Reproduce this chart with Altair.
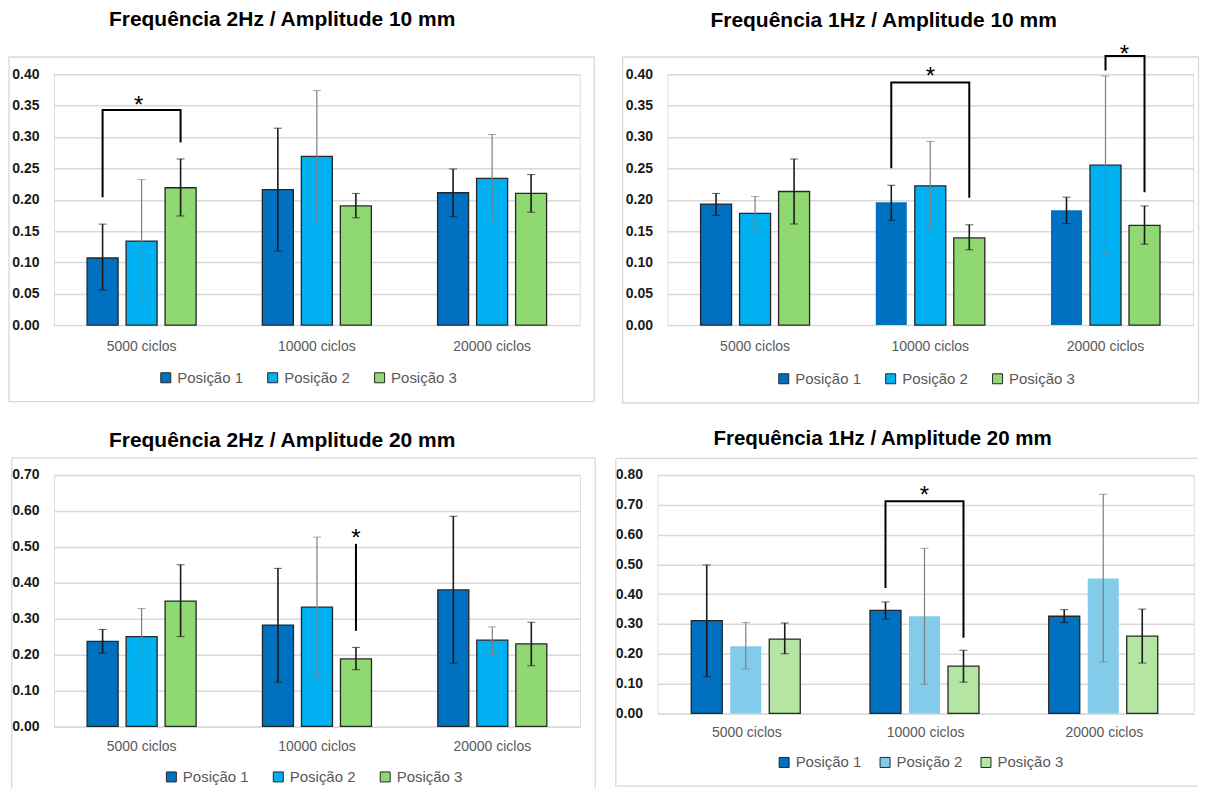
import altair as alt
import pandas as pd

FONT = "Liberation Sans"

cats = ["5000 ciclos", "10000 ciclos", "20000 ciclos"]
positions = ["Posição 1", "Posição 2", "Posição 3"]

colors_main = ["#0070C0", "#00B0F0", "#90D872"]
colors_light = ["#0070C0", "#83CBEB", "#B4E5A2"]

# ---- Panel A: 2Hz / 10 mm  (rows = Posição 1..3, cols = cats)
a_title = "Frequência 2Hz / Amplitude 10 mm"
a_mean = [[0.107, 0.216, 0.211], [0.134, 0.269, 0.234], [0.219, 0.190, 0.210]]
a_lo = [[0.056, 0.118, 0.173], [0.037, 0.165, 0.165], [0.174, 0.171, 0.180]]
a_hi = [[0.161, 0.314, 0.249], [0.232, 0.374, 0.304], [0.265, 0.210, 0.240]]
a_ticks = [0.00, 0.05, 0.10, 0.15, 0.20, 0.25, 0.30, 0.35, 0.40]
a_bracket = [["5000 ciclos", "Posição 1", 0.204], ["5000 ciclos", "Posição 1", 0.343],
             ["5000 ciclos", "Posição 3", 0.343], ["5000 ciclos", "Posição 3", 0.291]]
a_star = [["5000 ciclos", "Posição 2", 0.359]]

# ---- Panel B: 1Hz / 10 mm
b_title = "Frequência 1Hz / Amplitude 10 mm"
b_mean = [[0.193, 0.196, 0.183], [0.178, 0.222, 0.255], [0.213, 0.139, 0.159]]
b_lo = [[0.175, 0.167, 0.162], [0.150, 0.152, 0.113], [0.161, 0.120, 0.129]]
b_hi = [[0.210, 0.223, 0.204], [0.205, 0.293, 0.397], [0.265, 0.160, 0.190]]
b_ticks = a_ticks
b_bracket1 = [["10000 ciclos", "Posição 1", 0.250], ["10000 ciclos", "Posição 1", 0.387],
              ["10000 ciclos", "Posição 3", 0.387], ["10000 ciclos", "Posição 3", 0.203]]
b_bracket2 = [["20000 ciclos", "Posição 2", 0.406], ["20000 ciclos", "Posição 2", 0.429],
              ["20000 ciclos", "Posição 3", 0.429], ["20000 ciclos", "Posição 3", 0.212]]
b_star1 = [["10000 ciclos", "Posição 2", 0.405]]
b_star2 = [["20000 ciclos", "Posição 2", 0.441]]

# ---- Panel C: 2Hz / 20 mm
c_title = "Frequência 2Hz / Amplitude 20 mm"
c_mean = [[0.237, 0.282, 0.380], [0.250, 0.332, 0.240], [0.349, 0.188, 0.230]]
c_lo = [[0.204, 0.123, 0.176], [0.175, 0.139, 0.200], [0.250, 0.158, 0.169]]
c_hi = [[0.270, 0.440, 0.585], [0.328, 0.527, 0.277], [0.450, 0.220, 0.290]]
c_ticks = [0.0, 0.1, 0.2, 0.3, 0.4, 0.5, 0.6, 0.7]
c_bracket = [["10000 ciclos", "Posição 3", 0.266], ["10000 ciclos", "Posição 3", 0.508]]
c_star = [["10000 ciclos", "Posição 3", 0.538]]

# ---- Panel D: 1Hz / 20 mm
d_title = "Frequência 1Hz / Amplitude 20 mm"
d_mean = [[0.311, 0.346, 0.326], [0.225, 0.326, 0.453], [0.249, 0.159, 0.259]]
d_lo = [[0.123, 0.317, 0.305], [0.149, 0.098, 0.173], [0.200, 0.105, 0.169]]
d_hi = [[0.498, 0.374, 0.348], [0.305, 0.554, 0.735], [0.303, 0.212, 0.350]]
d_ticks = [0.0, 0.1, 0.2, 0.3, 0.4, 0.5, 0.6, 0.7, 0.8]
d_bracket = [["10000 ciclos", "Posição 1", 0.421], ["10000 ciclos", "Posição 1", 0.712],
             ["10000 ciclos", "Posição 3", 0.712], ["10000 ciclos", "Posição 3", 0.254]]
d_star = [["10000 ciclos", "Posição 2", 0.748]]


def bar_df(mean, lo, hi):
    rows = []
    for i, p in enumerate(positions):
        for j, c in enumerate(cats):
            rows.append({"cat": c, "pos": p, "mean": mean[i][j], "lo": lo[i][j], "hi": hi[i][j]})
    return pd.DataFrame(rows)


def path_df(points):
    return pd.DataFrame([{"cat": c, "pos": p, "v": v, "ord": k} for k, (c, p, v) in enumerate(points)])


def one_row():
    return pd.DataFrame({"k": [0]})


def panel(title, mean, lo, hi, ticks, ymax, colors, brackets, stars, w, h,
          tdx, tdy, toff, tsize, leg_x, leg_y, col_pad, nostroke, frame, xlabpad):
    xaxis = alt.Axis(title=None, labelAngle=0, domain=False, ticks=False, tickSize=0,
                     labelPadding=xlabpad, labelFontSize=14, labelColor="#595959", labelFont=FONT,
                     grid=False)
    yaxis = alt.Axis(title=None, values=ticks, format=".2f", domain=False, ticks=False,
                     tickSize=0, labelPadding=15, labelFontSize=14, labelFontWeight="bold",
                     labelColor="#1a1a1a", labelFont=FONT, gridColor="#D9D9D9", gridWidth=1.5)
    xs = alt.Scale(paddingInner=0.378, paddingOuter=0.189)
    xos = alt.Scale(paddingInner=0.205, paddingOuter=0)
    ys = alt.Scale(domain=[0, ymax], nice=False, zero=True)

    def X():
        return alt.X("cat:N", sort=cats, scale=xs, axis=xaxis)

    def XO():
        return alt.XOffset("pos:N", sort=positions, scale=xos)

    df = bar_df(mean, lo, hi)
    layers = []

    # frame (decoration)
    fl, ft, fr, fb, sides = frame
    if sides == "all":
        layers.append(alt.Chart(one_row()).mark_rect(fillOpacity=0, stroke="#D9D9D9", strokeWidth=1.3)
                      .encode(x=alt.value(fl), x2=alt.value(fr), y=alt.value(ft), y2=alt.value(fb)))
    else:
        for s in sides:
            if s == "l":
                enc = dict(x=alt.value(fl), y=alt.value(ft), y2=alt.value(fb))
            elif s == "r":
                enc = dict(x=alt.value(fr), y=alt.value(ft), y2=alt.value(fb))
            elif s == "t":
                enc = dict(x=alt.value(fl), x2=alt.value(fr), y=alt.value(ft))
            else:
                enc = dict(x=alt.value(fl), x2=alt.value(fr), y=alt.value(fb))
            layers.append(alt.Chart(one_row()).mark_rule(color="#D9D9D9", strokeWidth=1.3).encode(**enc))
        # invisible anchor so that all left panels line up at the same left edge
        layers.append(alt.Chart(one_row()).mark_rule(opacity=0).encode(
            x=alt.value(-45), y=alt.value(ft), y2=alt.value(ft + 5)))

    sw = alt.value(1.3) if nostroke is None else alt.condition(nostroke, alt.value(0), alt.value(1.3))
    bars = alt.Chart(df).mark_bar(stroke="#262626").encode(
        x=X(), xOffset=XO(),
        y=alt.Y("mean:Q", scale=ys, axis=yaxis),
        color=alt.Color("pos:N", sort=positions,
                        scale=alt.Scale(domain=positions, range=colors),
                        legend=alt.Legend(orient="none", legendX=leg_x, legendY=leg_y,
                                          direction="horizontal", title=None,
                                          symbolType="square", symbolSize=100,
                                          symbolStrokeColor="#262626", symbolStrokeWidth=1,
                                          symbolOpacity=1,
                                          labelFontSize=15, labelColor="#595959", labelFont=FONT,
                                          columnPadding=col_pad, labelOffset=4, padding=0)),
        strokeWidth=sw,
    )
    layers.append(bars)

    ecol = alt.condition("datum.pos === 'Posição 2'", alt.value("#7F7F7F"), alt.value("#1a1a1a"))
    ewid = alt.condition("datum.pos === 'Posição 2'", alt.value(1.2), alt.value(1.6))
    err = alt.Chart(df).mark_rule().encode(
        x=X(), xOffset=XO(),
        y=alt.Y("lo:Q", scale=ys, axis=yaxis), y2="hi:Q",
        color=ecol, strokeWidth=ewid)
    cap_lo = alt.Chart(df).mark_tick(size=8).encode(
        x=X(), xOffset=XO(), y=alt.Y("lo:Q", scale=ys, axis=yaxis), color=ecol, strokeWidth=ewid)
    cap_hi = alt.Chart(df).mark_tick(size=8).encode(
        x=X(), xOffset=XO(), y=alt.Y("hi:Q", scale=ys, axis=yaxis), color=ecol, strokeWidth=ewid)
    layers += [err, cap_lo, cap_hi]

    for pts in brackets:
        layers.append(alt.Chart(path_df(pts)).mark_line(color="black", strokeWidth=2,
                                                         strokeJoin="miter", strokeCap="butt").encode(
            x=X(), xOffset=XO(), y=alt.Y("v:Q", scale=ys, axis=yaxis), order="ord:Q"))
    for pts, sdx in stars:
        layers.append(alt.Chart(path_df(pts)).mark_text(text="*", fontSize=24, font=FONT,
                                                         baseline="alphabetic", dy=13, dx=sdx,
                                                         color="black").encode(
            x=X(), xOffset=XO(), y=alt.Y("v:Q", scale=ys, axis=yaxis)))

    return alt.layer(*layers).properties(
        width=w, height=h,
        title=alt.TitleParams(text=title, anchor="start", frame="group", dx=tdx, dy=tdy,
                              offset=toff, fontSize=tsize, font=FONT, fontWeight="bold",
                              color="black"),
    )


pa = panel(a_title, a_mean, a_lo, a_hi, a_ticks, 0.40, colors_main,
           [a_bracket], [(a_star, -3)], 526.2, 251, 55, 0, 26, 21, 104.4, 296, 22, None,
           (-45, -17.3, 540.7, 327.7, "all"), 14)
pb = panel(b_title, b_mean, b_lo, b_hi, b_ticks, 0.40, colors_main,
           [b_bracket1, b_bracket2], [(b_star1, 0), (b_star2, 19)], 526.1, 251, 43, 14, 26, 21,
           108.9, 297, 22, "datum.pos === 'Posição 1' && datum.cat !== '5000 ciclos'",
           (-44.9, -17.3, 531.5, 329, "all"), 14)
pc = panel(c_title, c_mean, c_lo, c_hi, c_ticks, 0.70, colors_main,
           [c_bracket], [(c_star, 0)], 526.5, 251.7, 55, 0, 6, 21, 110, 294.5, 22, None,
           (-42.3, -17, 541.7, 314, "ltr"), 13)
pd_ = panel(d_title, d_mean, d_lo, d_hi, d_ticks, 0.80, colors_light,
            [d_bracket], [(d_star, 0)], 536.7, 238.7, 56, 0, 8, 20.5, 119.3, 280, 16,
            "datum.pos === 'Posição 2'",
            (-41.7, -16.6, 541, 311.4, "ltb"), 12)

row1 = alt.hconcat(pa, pb, spacing=87, bounds="flush").resolve_scale(color="independent")
row2 = alt.hconcat(pc, pd_, spacing=77, bounds="flush").resolve_scale(color="independent")

chart = alt.vconcat(row1, row2, spacing=23).resolve_scale(
    color="independent").properties(
    padding={"top": 0, "left": -1, "right": 0, "bottom": 0}
).configure_view(stroke=None).configure(font=FONT)

chart.save("out.html", embed_options={"renderer": "svg", "actions": False})
